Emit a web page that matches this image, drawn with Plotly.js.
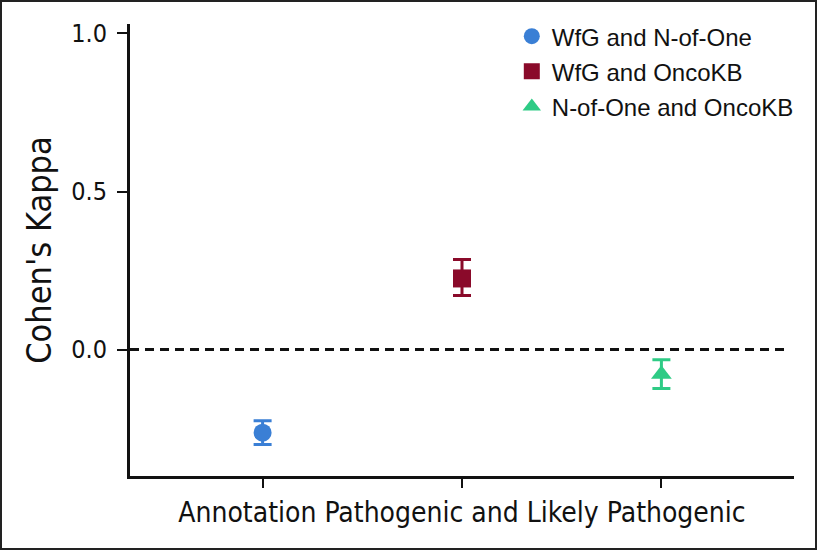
<!DOCTYPE html>
<html><head><meta charset="utf-8">
<script src="https://cdn.plot.ly/plotly-3.0.1.min.js"></script>
<style>
html,body{margin:0;padding:0;background:#fff;}
#frame{position:absolute;left:0;top:0;width:817px;height:550px;box-sizing:border-box;border:2px solid #222;}
#plot{width:813px;height:546px;}
</style></head>
<body><div id="frame"><div id="plot"></div></div>
<script>
const seriesNames = ['WfG and N-of-One', 'WfG and OncoKB', 'N-of-One and OncoKB'];
const xPositions = [1, 2, 3];
const kappa = [-0.263, 0.225, -0.078];
const ciUpper = [-0.225, 0.285, -0.032];
const ciLower = [-0.300, 0.171, -0.123];
const colors = ['#3a7fd5', '#8a0a2a', '#2ecb85'];
const symbols = ['circle', 'square', 'triangle-up'];
const xAxisTitle = 'Annotation Pathogenic and Likely Pathogenic';
const yAxisTitle = "Cohen's Kappa";
const yTickVals = [0, 0.5, 1.0];
const yTickText = ['0.0', '0.5', '1.0'];

const traces = seriesNames.map((name, i) => ({
  type: 'scatter', mode: 'markers', name: name, legendgroup: 'g' + i,
  x: [xPositions[i]], y: [kappa[i]],
  marker: {color: colors[i], symbol: symbols[i], size: 18},
  error_y: {type: 'data', symmetric: false,
    array: [ciUpper[i] - kappa[i]], arrayminus: [kappa[i] - ciLower[i]],
    color: colors[i], thickness: 3, width: 9}
}));

const narrow = '"Liberation Sans Narrow", "DejaVu Sans Condensed", Arial, sans-serif';
const layout = {
  width: 813, height: 546,
  margin: {l: 128, r: 21, t: 22, b: 72, autoexpand: false},
  paper_bgcolor: '#fff', plot_bgcolor: '#fff',
  showlegend: true,
  legend: {x: 0.575, y: 1.022, xanchor: 'left', yanchor: 'top',
    font: {family: 'Arial, "Liberation Sans", sans-serif', size: 24, color: '#111'},
    itemsizing: 'trace', traceorder: 'grouped', tracegroupgap: 1, bgcolor: 'rgba(0,0,0,0)'},
  xaxis: {range: [0.335, 3.665], tickvals: xPositions, ticktext: ['', '', ''],
    ticks: 'outside', ticklen: 9, tickwidth: 2, tickcolor: '#111',
    showline: true, linewidth: 3, linecolor: '#111', showgrid: false, zeroline: false,
    title: {text: xAxisTitle, font: {family: narrow, size: 28, color: '#111'}, standoff: 13}},
  yaxis: {range: [-0.4, 1.03], tickvals: yTickVals, ticktext: yTickText,
    ticks: 'outside', ticklen: 10, tickwidth: 2, tickcolor: '#111', ticklabelstandoff: 5,
    tickfont: {family: narrow, size: 25, color: '#111'},
    showline: true, linewidth: 3, linecolor: '#111', showgrid: false, zeroline: false,
    title: {text: yAxisTitle, font: {family: narrow, size: 34, color: '#111'}, standoff: 10}},
  shapes: [{type: 'line', xref: 'paper', yref: 'y', x0: 0, x1: 0.985, y0: 0, y1: 0,
    line: {color: '#111', width: 3, dash: '9px,6px'}}]
};
Plotly.newPlot('plot', traces, layout, {displayModeBar: false, staticPlot: true});
</script></body></html>
